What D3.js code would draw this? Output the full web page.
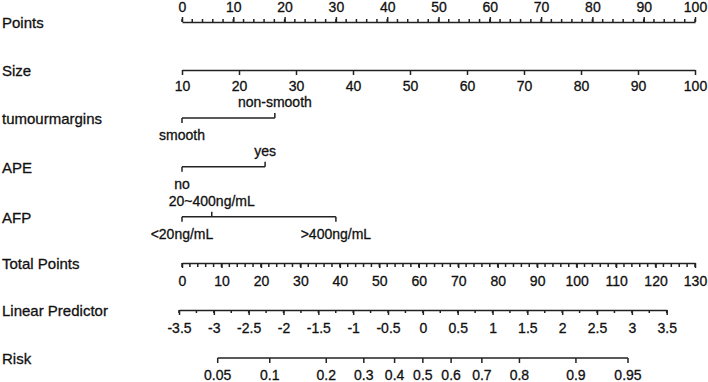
<!DOCTYPE html>
<html>
<head>
<meta charset="utf-8">
<script src="https://cdn.jsdelivr.net/npm/d3@7"></script>
<style>
  body { margin: 0; background: #fff; }
  svg { display: block; }
  text { font-family: "Liberation Sans", Arial, sans-serif; fill: #111; stroke: #111; stroke-width: 0.3px; }
</style>
</head>
<body>
<svg id="nomo" width="708" height="382"></svg>
<script>
// nomogram values
const rowNames = ["Points", "Size", "tumourmargins", "APE", "AFP", "Total Points", "Linear Predictor", "Risk"];

const pointTicks = d3.range(0, 101, 10);
const pointMinor = d3.range(0, 101, 2);

const sizeTicks = d3.range(10, 101, 10);

const marginLevels = ["smooth", "non-smooth"];
const marginPoints = [0, 18.1];

const apeLevels = ["no", "yes"];
const apePoints = [0, 16.2];

const afpLevels = ["<20ng/mL", "20~400ng/mL", ">400ng/mL"];
const afpPoints = [0, 5.8, 30];

const totalTicks = d3.range(0, 131, 10);
const totalMinor = d3.range(0, 131, 2);

const lpTicks = [-3.5, -3, -2.5, -2, -1.5, -1, -0.5, 0, 0.5, 1, 1.5, 2, 2.5, 3, 3.5];
const lpMinor = d3.range(-3.5, 3.51, 0.25);

const riskTicks = [0.05, 0.1, 0.2, 0.3, 0.4, 0.5, 0.6, 0.7, 0.8, 0.9, 0.95];

// layout
const rowY = [22, 70, 118, 166.7, 216.7, 263, 310, 358];
const lineColor = "#222";
const lineWidth = 1.5;

const svg = d3.select("#nomo");

const xPts = d3.scaleLinear().domain([0, 100]).range([182, 695]);
const xSize = d3.scaleLinear().domain([10, 100]).range([182, 695]);
const xTotal = d3.scaleLinear().domain([0, 130]).range([182, 695]);
const xLp = d3.scaleLinear().domain([-3.5, 3.5]).range([179, 666.7]);
const logit = p => Math.log(p / (1 - p));

// left labels
svg.selectAll("text.rowlab")
  .data(rowNames)
  .enter().append("text")
  .attr("class", "rowlab")
  .attr("x", 2)
  .attr("y", (d, i) => rowY[i] + 1)
  .attr("dy", "0.358em")
  .style("font-size", "15px")
  .text(d => d);

function styleAxis(g, labelOffset) {
  g.select(".domain").attr("stroke", lineColor).attr("stroke-width", lineWidth);
  g.selectAll(".tick line").attr("stroke", lineColor).attr("stroke-width", lineWidth);
  g.selectAll(".tick text")
    .attr("y", labelOffset)
    .attr("dy", "0.35em")
    .style("font-size", "14px")
    .attr("fill", "#111");
}

function minorTicks(g, scale, values, len) {
  g.selectAll("line.minor")
    .data(values)
    .enter().append("line")
    .attr("class", "minor")
    .attr("x1", d => scale(d)).attr("x2", d => scale(d))
    .attr("y1", 0).attr("y2", len)
    .attr("stroke", lineColor)
    .attr("stroke-width", lineWidth);
}

// Points
const gPts = svg.append("g").attr("transform", `translate(0,${rowY[0]})`);
minorTicks(gPts, xPts, pointMinor, -3);
gPts.call(d3.axisTop(xPts).tickValues(pointTicks).tickSize(5).tickSizeOuter(0).tickFormat(d3.format("d")));
styleAxis(gPts, -15);

// Size
const gSize = svg.append("g").attr("transform", `translate(0,${rowY[1]})`);
gSize.call(d3.axisBottom(xSize).tickValues(sizeTicks).tickSize(5).tickSizeOuter(0).tickFormat(d3.format("d")));
styleAxis(gSize, 16);

// categorical rows
function catRow(levels, pts, y) {
  const g = svg.append("g").attr("transform", `translate(0,${y})`);
  g.append("line")
    .attr("x1", xPts(d3.min(pts))).attr("x2", xPts(d3.max(pts)))
    .attr("y1", 0).attr("y2", 0)
    .attr("stroke", lineColor).attr("stroke-width", lineWidth);
  g.selectAll("line.tk")
    .data(levels)
    .enter().append("line")
    .attr("class", "tk")
    .attr("x1", (d, i) => xPts(pts[i])).attr("x2", (d, i) => xPts(pts[i]))
    .attr("y1", 0).attr("y2", (d, i) => i % 2 === 0 ? 5 : -5)
    .attr("stroke", lineColor).attr("stroke-width", lineWidth);
  g.selectAll("text")
    .data(levels)
    .enter().append("text")
    .attr("x", (d, i) => xPts(pts[i]))
    .attr("y", (d, i) => i % 2 === 0 ? 17 : -16)
    .attr("dy", "0.35em")
    .attr("text-anchor", "middle")
    .style("font-size", "14px")
    .text(d => d);
}
catRow(marginLevels, marginPoints, rowY[2]);
catRow(apeLevels, apePoints, rowY[3]);
catRow(afpLevels, afpPoints, rowY[4]);

// Total Points
const gTot = svg.append("g").attr("transform", `translate(0,${rowY[5]})`);
minorTicks(gTot, xTotal, totalMinor, 4);
gTot.call(d3.axisBottom(xTotal).tickValues(totalTicks).tickSize(5).tickSizeOuter(0).tickFormat(d3.format("d")));
styleAxis(gTot, 18);

// Linear Predictor
const gLp = svg.append("g").attr("transform", `translate(0,${rowY[6]})`);
minorTicks(gLp, xLp, lpMinor, 3);
gLp.call(d3.axisBottom(xLp).tickValues(lpTicks).tickSize(5).tickSizeOuter(0).tickFormat(d => String(d)));
styleAxis(gLp, 18.5);

// Risk, placed on the linear predictor through the logit
const xRisk = p => xLp(logit(p));
const gRisk = svg.append("g").attr("transform", `translate(0,${rowY[7]})`);
gRisk.append("line")
  .attr("x1", xRisk(d3.min(riskTicks))).attr("x2", xRisk(d3.max(riskTicks)))
  .attr("stroke", lineColor).attr("stroke-width", lineWidth);
gRisk.selectAll("line.tk")
  .data(riskTicks)
  .enter().append("line")
  .attr("class", "tk")
  .attr("x1", d => xRisk(d)).attr("x2", d => xRisk(d))
  .attr("y1", 0).attr("y2", 5)
  .attr("stroke", lineColor).attr("stroke-width", lineWidth);
gRisk.selectAll("text")
  .data(riskTicks)
  .enter().append("text")
  .attr("x", d => xRisk(d))
  .attr("y", 17)
  .attr("dy", "0.35em")
  .attr("text-anchor", "middle")
  .style("font-size", "14px")
  .text(d => String(d));
</script>
</body>
</html>
